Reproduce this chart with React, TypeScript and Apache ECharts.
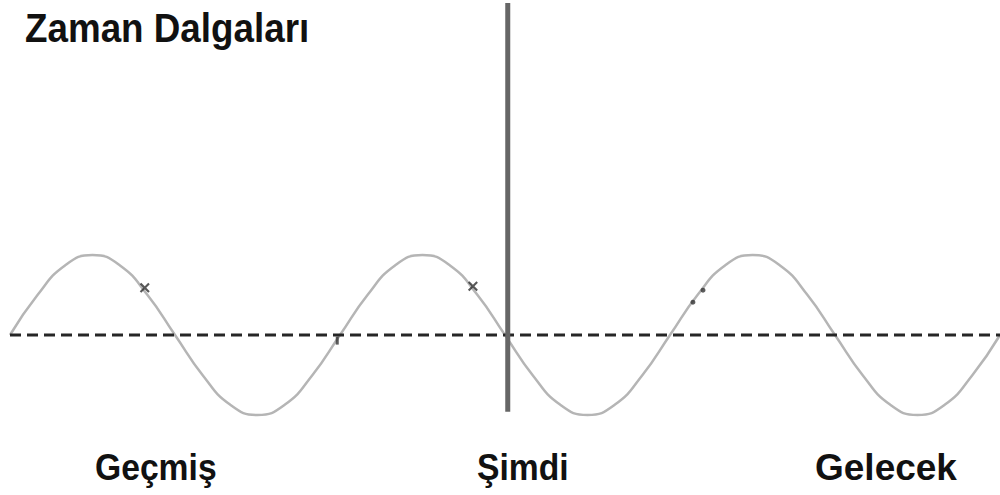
import React, { useEffect, useRef } from "react";
import * as echarts from "echarts";

// Phase positions (degrees) along the time axis
const wavePhase = [
  0, 30, 60, 90, 120, 150, 180, 210, 240, 270, 300, 330, 360,
  390, 420, 450, 480, 510, 540, 570, 600, 630, 660, 690, 720,
  750, 780, 810, 840, 870, 900, 930, 960, 990, 1020, 1050, 1080,
];
// Wave height (peak = 1, trough = -1)
const waveValue = [
  0, 0.5, 0.87, 1, 0.87, 0.5, 0, -0.5, -0.87, -1, -0.87, -0.5, 0,
  0.5, 0.87, 1, 0.87, 0.5, 0, -0.5, -0.87, -1, -0.87, -0.5, 0,
  0.5, 0.87, 1, 0.87, 0.5, 0, -0.5, -0.87, -1, -0.87, -0.5, 0,
];
const baselinePhase = [0, 1080];
const baselineValue = [0, 0];
const nowPhase = [543, 543];
const nowValue = [4.15, -0.96];
const crossPhase = [147, 505];
const crossValue = [0.59, 0.61];
const dotPhase = [745, 756];
const dotValue = [0.41, 0.56];
const tickPhase = [357];
const tickValue = [-0.07];

const titleText = "Zaman Dalgaları";
const periodLabels = ["Geçmiş", "Şimdi", "Gelecek"];

const zip = (a: number[], b: number[]) => a.map((x, i) => [x, b[i]]);

const FONT = '"Liberation Sans", Arial, sans-serif';

export default function App() {
  const ref = useRef<HTMLDivElement>(null);
  useEffect(() => {
    if (!ref.current) return;
    const chart = echarts.init(ref.current, undefined, { renderer: "svg" });
    const labelX = [95, 477, 815];
    const labelScale = [0.91, 0.91, 1.0];
    chart.setOption({
      animation: false,
      backgroundColor: "#ffffff",
      grid: { left: 10, right: 0, top: 0, bottom: 0 },
      xAxis: {
        type: "value",
        min: 0,
        max: 1080,
        show: false,
      },
      yAxis: {
        type: "value",
        min: -2,
        max: 4.1875,
        show: false,
      },
      graphic: [
        {
          type: "text",
          x: 25,
          y: 28,
          scaleX: 0.92,
          style: {
            x: 0,
            y: 0,
            text: titleText,
            font: `bold 40px ${FONT}`,
            fill: "#111111",
            textAlign: "left",
            textVerticalAlign: "middle",
          },
        },
        ...periodLabels.map((t, i) => ({
          type: "text",
          x: labelX[i],
          y: 467,
          scaleX: labelScale[i],
          style: {
            x: 0,
            y: 0,
            text: t,
            font: `bold 37px ${FONT}`,
            fill: "#111111",
            textAlign: "left",
            textVerticalAlign: "middle",
          },
        })),
      ],
      series: [
        {
          type: "line",
          data: zip(wavePhase, waveValue),
          smooth: true,
          showSymbol: false,
          lineStyle: { color: "#b5b5b5", width: 2.5 },
          z: 2,
        },
        {
          type: "line",
          data: zip(baselinePhase, baselineValue),
          showSymbol: false,
          lineStyle: { color: "#262626", width: 3, type: [11, 6] },
          z: 3,
        },
        {
          type: "line",
          data: zip(nowPhase, nowValue),
          showSymbol: false,
          lineStyle: { color: "#666666", width: 5 },
          z: 4,
        },
        {
          type: "scatter",
          data: zip(crossPhase, crossValue),
          symbol:
            "path://M1.5,0L5,3.5L8.5,0L10,1.5L6.5,5L10,8.5L8.5,10L5,6.5L1.5,10L0,8.5L3.5,5L0,1.5Z",
          symbolSize: 10,
          itemStyle: { color: "#2e2e2e" },
          z: 5,
        },
        {
          type: "scatter",
          data: zip(dotPhase, dotValue),
          symbol: "circle",
          symbolSize: 5,
          itemStyle: { color: "#333333" },
          z: 5,
        },
        {
          type: "scatter",
          data: zip(tickPhase, tickValue),
          symbol: "rect",
          symbolSize: [3, 8],
          itemStyle: { color: "#333333" },
          z: 5,
        },
      ],
    });
    return () => chart.dispose();
  }, []);
  return <div ref={ref} style={{ width: 1000, height: 495, position: "fixed", left: 0, top: 0 }} />;
}
